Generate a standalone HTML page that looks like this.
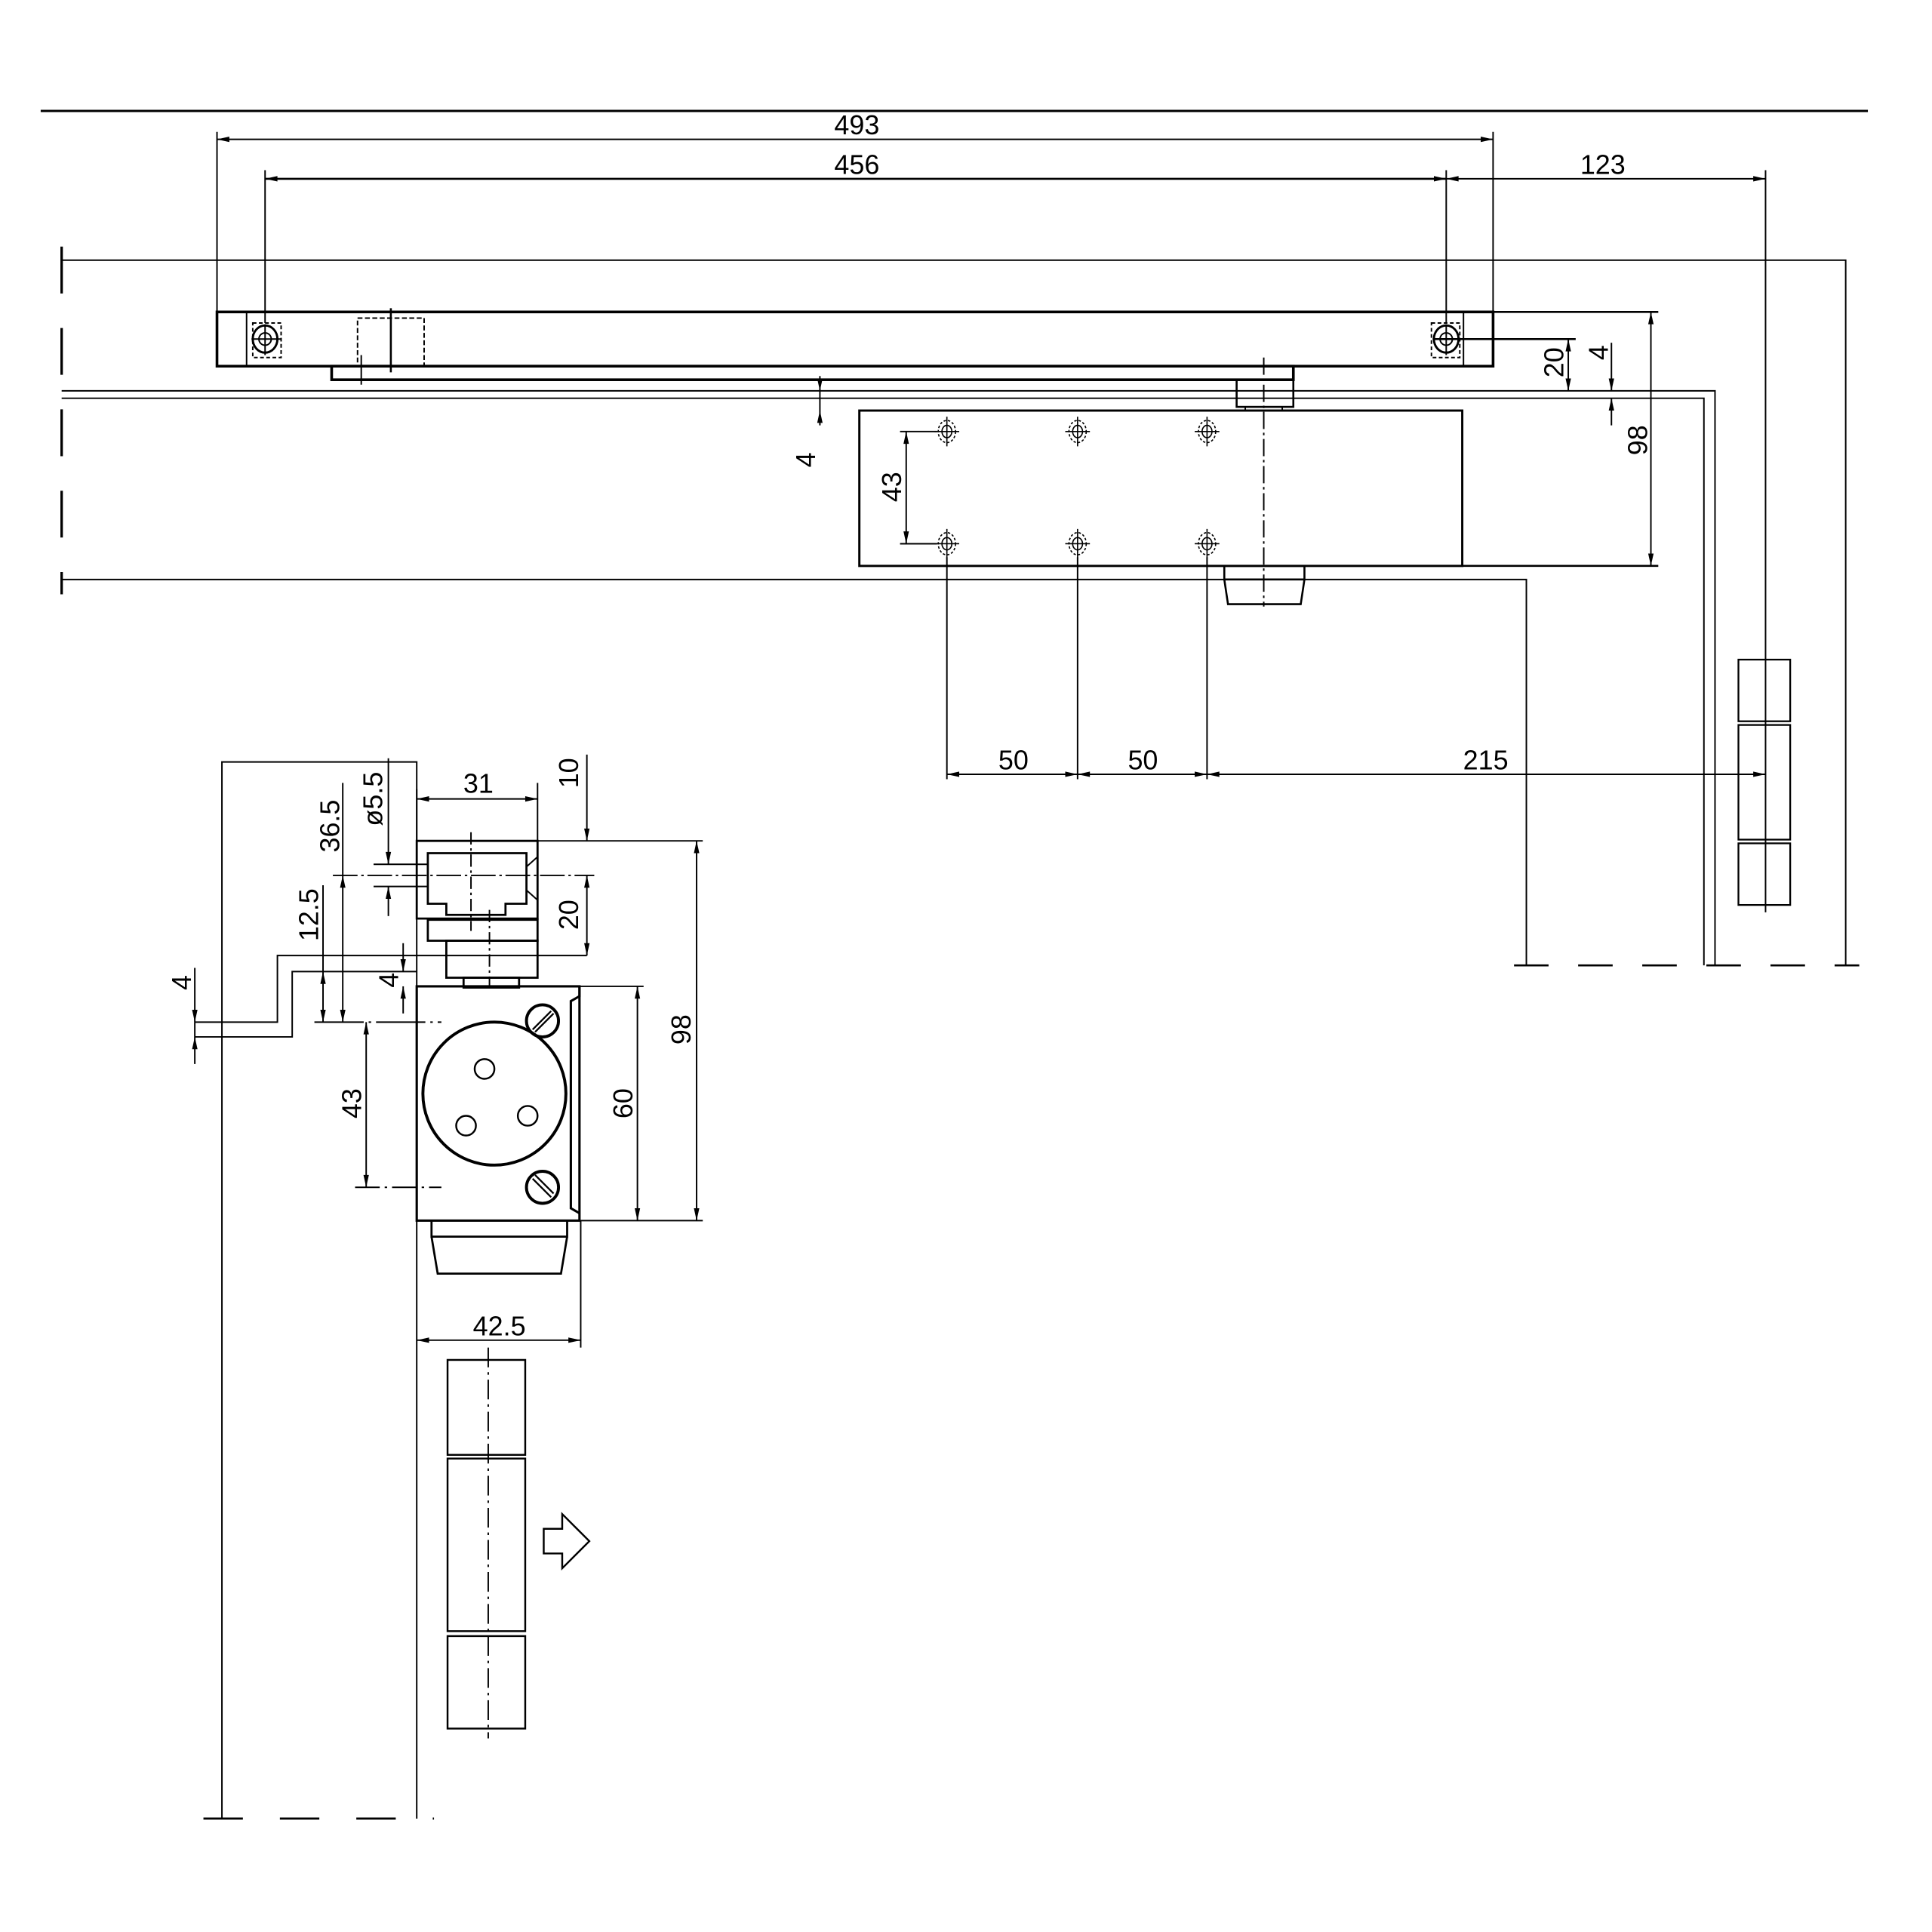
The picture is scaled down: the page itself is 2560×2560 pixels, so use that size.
<!DOCTYPE html>
<html><head><meta charset="utf-8"><style>
html,body{margin:0;padding:0;background:#fff;}
svg{display:block;}
text{font-family:"Liberation Sans",sans-serif;font-size:22px;fill:#000;}
</style></head><body>
<svg width="2560" height="2560" viewBox="0 0 1567 1567" xmlns="http://www.w3.org/2000/svg">
<defs>
<marker id="a" viewBox="0 0 10 6" refX="10" refY="3" markerWidth="11" markerHeight="6" markerUnits="userSpaceOnUse" orient="auto-start-reverse"><path d="M0,0.8 L10,3 L0,5.2 z" fill="#000"/></marker>
</defs>
<g fill="none" stroke="#000" stroke-width="1.2">
<line x1="33" y1="90" x2="1515" y2="90" stroke-width="1.8"/>
<line x1="176" y1="107" x2="176" y2="253"/>
<line x1="1211" y1="107" x2="1211" y2="297"/>
<line x1="176" y1="113" x2="1211" y2="113" marker-start="url(#a)" marker-end="url(#a)"/>
<line x1="215" y1="138" x2="215" y2="262"/>
<line x1="1173" y1="138" x2="1173" y2="262"/>
<line x1="215" y1="145" x2="1173" y2="145" marker-start="url(#a)" marker-end="url(#a)" stroke-width="1.6"/>
<line x1="1173" y1="145" x2="1432" y2="145" marker-start="url(#a)" marker-end="url(#a)"/>
<line x1="1432" y1="138" x2="1432" y2="740"/>
<polyline points="50,211 1497,211 1497,783"/>
<polyline points="50,317 1391,317 1391,783"/>
<polyline points="50,323 1382,323 1382,783"/>
<polyline points="50,470 1238,470 1238,783"/>
<line x1="50" y1="200" x2="50" y2="482" stroke-width="2" stroke-dasharray="38,28"/>
<line x1="1228" y1="783" x2="1508" y2="783" stroke-width="1.6" stroke-dasharray="28,24"/>
<rect x="176" y="253" width="1035" height="44" stroke-width="2.2"/>
<line x1="200" y1="253" x2="200" y2="297"/>
<line x1="1187" y1="253" x2="1187" y2="297"/>
<rect x="205" y="262" width="23" height="28" stroke-dasharray="3,2"/>
<rect x="1161" y="262" width="23" height="28" stroke-dasharray="3,2"/>
<ellipse cx="215" cy="275" rx="10" ry="11" stroke-width="1.8"/><circle cx="215" cy="275" r="5"/>
<line x1="204" y1="275" x2="228" y2="275"/><line x1="215" y1="263" x2="215" y2="288"/>
<ellipse cx="1173" cy="275" rx="10" ry="11" stroke-width="1.8"/><circle cx="1173" cy="275" r="5"/>
<line x1="1162" y1="275" x2="1278" y2="275" stroke-width="1.6"/><line x1="1173" y1="263" x2="1173" y2="288"/>
<rect x="290" y="258" width="54" height="39" stroke-dasharray="4,2"/>
<line x1="317" y1="250" x2="317" y2="302" stroke-width="1.6"/>
<line x1="293" y1="288" x2="293" y2="312"/>
<rect x="269" y="297" width="780" height="11" stroke-width="2.2"/>
<rect x="1003" y="308" width="46" height="22" stroke-width="1.6"/>
<rect x="1010" y="330" width="30" height="3"/>
<rect x="697" y="333" width="489" height="126" stroke-width="1.8"/>
<line x1="1025" y1="290" x2="1025" y2="492" stroke-dasharray="14,3,2,3"/>
<path d="M993,459 L1058,459 L1058,470 L993,470 z M993,470 L996,490 L1055,490 L1058,470" stroke-width="1.6"/>
<line x1="1186" y1="253" x2="1345" y2="253" stroke-width="1.6"/>
<line x1="1186" y1="459" x2="1345" y2="459" stroke-width="1.6"/>
<line x1="1339" y1="253" x2="1339" y2="459" marker-start="url(#a)" marker-end="url(#a)"/>
<line x1="1272" y1="275" x2="1272" y2="317" marker-start="url(#a)" marker-end="url(#a)"/>
<line x1="1307" y1="278" x2="1307" y2="317" marker-end="url(#a)"/>
<line x1="1307" y1="345" x2="1307" y2="323" marker-end="url(#a)"/>
<line x1="665" y1="305" x2="665" y2="317" marker-end="url(#a)"/>
<line x1="665" y1="345" x2="665" y2="333" marker-end="url(#a)"/>
<line x1="665" y1="317" x2="665" y2="333"/>
<g stroke-width="1">
<g transform="translate(768,350)"><ellipse rx="7" ry="9" stroke-dasharray="2,1.5"/><ellipse rx="4" ry="5"/><line x1="-10" x2="10"/><line y1="-12" y2="12"/></g>
<g transform="translate(874,350)"><ellipse rx="7" ry="9" stroke-dasharray="2,1.5"/><ellipse rx="4" ry="5"/><line x1="-10" x2="10"/><line y1="-12" y2="12"/></g>
<g transform="translate(979,350)"><ellipse rx="7" ry="9" stroke-dasharray="2,1.5"/><ellipse rx="4" ry="5"/><line x1="-10" x2="10"/><line y1="-12" y2="12"/></g>
<g transform="translate(768,441)"><ellipse rx="7" ry="9" stroke-dasharray="2,1.5"/><ellipse rx="4" ry="5"/><line x1="-10" x2="10"/><line y1="-12" y2="12"/></g>
<g transform="translate(874,441)"><ellipse rx="7" ry="9" stroke-dasharray="2,1.5"/><ellipse rx="4" ry="5"/><line x1="-10" x2="10"/><line y1="-12" y2="12"/></g>
<g transform="translate(979,441)"><ellipse rx="7" ry="9" stroke-dasharray="2,1.5"/><ellipse rx="4" ry="5"/><line x1="-10" x2="10"/><line y1="-12" y2="12"/></g>
</g>
<line x1="730" y1="350" x2="760" y2="350"/><line x1="730" y1="441" x2="760" y2="441"/>
<line x1="735" y1="350" x2="735" y2="441" marker-start="url(#a)" marker-end="url(#a)"/>
<line x1="768" y1="452" x2="768" y2="632"/>
<line x1="874" y1="452" x2="874" y2="632"/>
<line x1="979" y1="452" x2="979" y2="632"/>
<line x1="768" y1="628" x2="874" y2="628" marker-start="url(#a)" marker-end="url(#a)"/>
<line x1="874" y1="628" x2="979" y2="628" marker-start="url(#a)" marker-end="url(#a)"/>
<line x1="979" y1="628" x2="1432" y2="628" marker-start="url(#a)" marker-end="url(#a)"/>
<rect x="1410" y="535" width="42" height="50" stroke-width="1.4"/>
<rect x="1410" y="588" width="42" height="93" stroke-width="1.4"/>
<rect x="1410" y="684" width="42" height="50" stroke-width="1.4"/>

<polyline points="180,1475 180,618 338,618 338,1475"/>
<line x1="165" y1="1475" x2="352" y2="1475" stroke-width="1.6" stroke-dasharray="32,30"/>
<polyline points="158,829 225,829 225,775 476,775"/>
<polyline points="158,841 237,841 237,788 338,788"/>
<line x1="158" y1="785" x2="158" y2="829" marker-end="url(#a)"/>
<line x1="158" y1="863" x2="158" y2="841" marker-end="url(#a)"/>
<line x1="158" y1="829" x2="158" y2="841"/>
<path d="M338,682 L436,682 L436,745 L338,745 z" stroke-width="1.7"/>
<path d="M347,692 L427,692 L427,733 L410,733 L410,742 L362,742 L362,733 L347,733 z" stroke-width="1.7"/>
<path d="M427,703 L436,695 M427,722 L436,730"/>
<rect x="347" y="746" width="89" height="17" stroke-width="1.7"/>
<rect x="362" y="763" width="74" height="30" stroke-width="1.7"/>
<rect x="376" y="793" width="45" height="8" stroke-width="1.7"/>
<line x1="382" y1="675" x2="382" y2="755" stroke-dasharray="10,3,2,3"/>
<line x1="397" y1="738" x2="397" y2="800" stroke-dasharray="10,3,2,3"/>
<line x1="270" y1="710" x2="482" y2="710" stroke-dasharray="20,3,2,3"/>
<line x1="303" y1="701" x2="347" y2="701"/><line x1="303" y1="719" x2="347" y2="719"/>
<line x1="338" y1="640" x2="338" y2="682"/><line x1="436" y1="635" x2="436" y2="682"/>
<line x1="338" y1="648" x2="436" y2="648" marker-start="url(#a)" marker-end="url(#a)"/>
<line x1="436" y1="682" x2="570" y2="682"/>
<line x1="476" y1="612" x2="476" y2="682" marker-end="url(#a)"/>
<line x1="476" y1="710" x2="476" y2="775" marker-start="url(#a)" marker-end="url(#a)"/>
<line x1="315" y1="615" x2="315" y2="701" marker-end="url(#a)"/>
<line x1="315" y1="743" x2="315" y2="719" marker-end="url(#a)"/>
<line x1="278" y1="635" x2="278" y2="710"/>
<line x1="278" y1="710" x2="278" y2="829" marker-start="url(#a)" marker-end="url(#a)"/>
<line x1="262" y1="718" x2="262" y2="788"/>
<line x1="262" y1="788" x2="262" y2="829" marker-start="url(#a)" marker-end="url(#a)"/>
<line x1="327" y1="765" x2="327" y2="788" marker-end="url(#a)"/>
<line x1="327" y1="822" x2="327" y2="800" marker-end="url(#a)"/>
<line x1="255" y1="829" x2="358" y2="829" stroke-dasharray="40,4,2,4"/>
<line x1="288" y1="963" x2="358" y2="963" stroke-dasharray="20,4,2,4"/>
<line x1="297" y1="829" x2="297" y2="963" marker-start="url(#a)" marker-end="url(#a)"/>
<rect x="338" y="800" width="132" height="190" stroke-width="1.9"/>
<path d="M470,800 L470,808 L463,812 L463,980 L470,984" stroke-width="1.9"/>
<circle cx="401" cy="887" r="58" stroke-width="2.4"/>
<circle cx="393" cy="867" r="8" stroke-width="1.5"/>
<circle cx="378" cy="913" r="8" stroke-width="1.5"/>
<circle cx="428" cy="905" r="8" stroke-width="1.5"/>
<circle cx="440" cy="828" r="13" stroke-width="2.4"/>
<path d="M432,835 L447,820 M434,837 L449,822" stroke-width="1.4"/>
<circle cx="440" cy="963" r="13" stroke-width="2.4"/>
<path d="M432,956 L447,971 M434,953 L449,968" stroke-width="1.4"/>
<line x1="470" y1="800" x2="522" y2="800"/>
<line x1="470" y1="990" x2="570" y2="990"/>
<line x1="517" y1="800" x2="517" y2="990" marker-start="url(#a)" marker-end="url(#a)"/>
<line x1="565" y1="682" x2="565" y2="990" marker-start="url(#a)" marker-end="url(#a)"/>
<path d="M350,990 L350,1003 L460,1003 L460,990 M350,1003 L355,1033 L455,1033 L460,1003" stroke-width="1.7"/>
<line x1="471" y1="990" x2="471" y2="1093"/>
<line x1="338" y1="1087" x2="471" y2="1087" marker-start="url(#a)" marker-end="url(#a)"/>
<rect x="363" y="1103" width="63" height="77" stroke-width="1.5"/>
<rect x="363" y="1183" width="63" height="140" stroke-width="1.5"/>
<rect x="363" y="1327" width="63" height="75" stroke-width="1.5"/>
<line x1="396" y1="1093" x2="396" y2="1410" stroke-dasharray="16,4,2,4"/>
<path d="M441,1240 L456,1240 L456,1228 L478,1250 L456,1272 L456,1260 L441,1260 z" stroke-width="1.5"/>
</g>
<g>
<text x="695" y="109" text-anchor="middle">493</text>
<text x="695" y="141" text-anchor="middle">456</text>
<text x="1300" y="141" text-anchor="middle">123</text>
<text x="822" y="624" text-anchor="middle">50</text>
<text x="927" y="624" text-anchor="middle">50</text>
<text x="1205" y="624" text-anchor="middle">215</text>
<text x="388" y="643" text-anchor="middle">31</text>
<text x="405" y="1083" text-anchor="middle">42.5</text>
<text transform="translate(731,395) rotate(-90)" text-anchor="middle">43</text>
<text transform="translate(661,373) rotate(-90)" text-anchor="middle">4</text>
<text transform="translate(1336,357) rotate(-90)" text-anchor="middle">98</text>
<text transform="translate(1268,294) rotate(-90)" text-anchor="middle">20</text>
<text transform="translate(1304,286) rotate(-90)" text-anchor="middle">4</text>
<text transform="translate(469,627) rotate(-90)" text-anchor="middle">10</text>
<text transform="translate(469,742) rotate(-90)" text-anchor="middle">20</text>
<text transform="translate(310,648) rotate(-90)" text-anchor="middle">ø5.5</text>
<text transform="translate(275,670) rotate(-90)" text-anchor="middle">36.5</text>
<text transform="translate(258,742) rotate(-90)" text-anchor="middle">12.5</text>
<text transform="translate(323,795) rotate(-90)" text-anchor="middle">4</text>
<text transform="translate(155,797) rotate(-90)" text-anchor="middle">4</text>
<text transform="translate(293,895) rotate(-90)" text-anchor="middle">43</text>
<text transform="translate(513,895) rotate(-90)" text-anchor="middle">60</text>
<text transform="translate(560,835) rotate(-90)" text-anchor="middle">98</text>
</g>
</svg>
</body></html>
